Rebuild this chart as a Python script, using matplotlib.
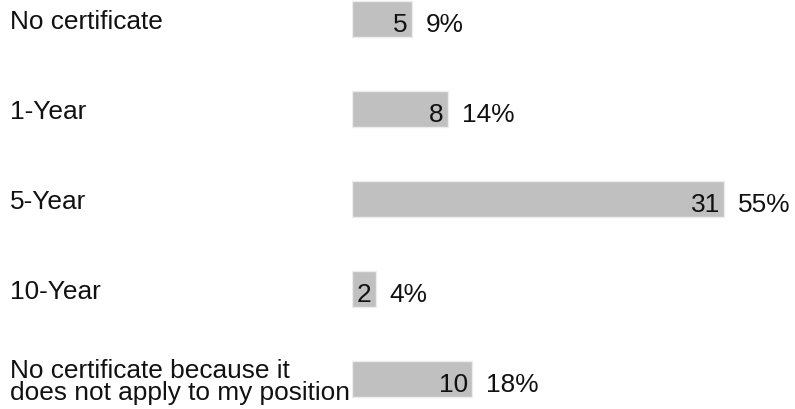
import matplotlib.pyplot as plt

categories = ["No certificate", "1-Year", "5-Year", "10-Year",
              "No certificate because it\ndoes not apply to my position"]
counts = [5, 8, 31, 2, 10]
percents = ["9%", "14%", "55%", "4%", "18%"]

plt.rcParams['font.family'] = ['Liberation Sans', 'DejaVu Sans']

fig = plt.figure(figsize=(7.95, 4.09), dpi=100)
ax = fig.add_axes([352 / 795, 0, 443 / 795, 1])

pos = list(range(len(categories)))
ax.barh(pos, counts, height=0.4, color='#c0c0c0', edgecolor='#ececec', linewidth=1)

fs = 18.9
for i, (c, p) in enumerate(zip(counts, percents)):
    ax.text(c - 0.35, i + 0.07, str(c), ha='right', va='center', fontsize=fs, color='#111111')
    ax.text(c + 1.15, i + 0.07, p, ha='left', va='center', fontsize=fs, color='#111111')

# category labels on the left, outside the axes
for i, cat in enumerate(categories):
    ax.text(-352 / 12 + 10 / 12, i + 0.03, cat, ha='left', va='center', fontsize=fs,
            color='#111111', linespacing=0.88, clip_on=False)

ax.set_xlim(0, 443 / 12)
ax.set_ylim(390 / 90, -19 / 90)
ax.axis('off')

fig.savefig('out.png', dpi=100)
